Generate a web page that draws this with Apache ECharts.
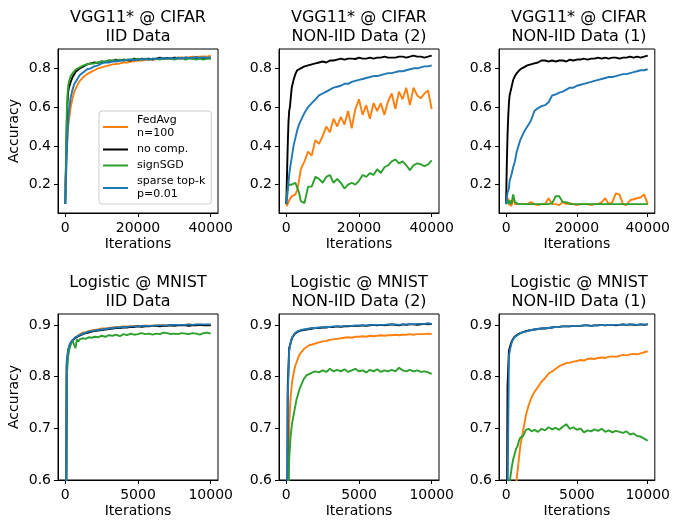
<!DOCTYPE html>
<html><head><meta charset="utf-8">
<script src="https://cdn.jsdelivr.net/npm/echarts@6/dist/echarts.min.js"></script>
<style>html,body{margin:0;padding:0;background:#fff}#c{width:673px;height:520px}</style>
</head><body><div id="c"></div>
<script>
// ---------- data ----------
const cifarIters = [0,200,400,600,800,1000,1500,2000,2500,3000,3500,4000,5000,6000,7000,8000,9000,10000,11000,12000,13000,14000,15000,16000,17000,18000,19000,20000,21000,22000,23000,24000,25000,26000,27000,28000,29000,30000,31000,32000,33000,34000,35000,36000,37000,38000,39000,40000];
const mnistIters = [0,100,200,300,400,500,600,700,800,900,1000,1200,1400,1600,1800,2000,2250,2500,2750,3000,3250,3500,3750,4000,4250,4500,4750,5000,5250,5500,5750,6000,6250,6500,6750,7000,7250,7500,7750,8000,8250,8500,8750,9000,9250,9500,9750,10000];

const seriesNames = ["FedAvg\nn=100", "no comp.", "signSGD", "sparse top-k\np=0.01"];
const seriesColors = ["#ff7f0e", "#000000", "#2ca02c", "#1f77b4"];

const titles = [
  "VGG11* @ CIFAR\nIID Data", "VGG11* @ CIFAR\nNON-IID Data (2)", "VGG11* @ CIFAR\nNON-IID Data (1)",
  "Logistic @ MNIST\nIID Data", "Logistic @ MNIST\nNON-IID Data (2)", "Logistic @ MNIST\nNON-IID Data (1)"
];
const cifarXTicks = [0, 20000, 40000];
const mnistXTicks = [0, 5000, 10000];
const cifarYTicks = [0.2, 0.4, 0.6, 0.8];
const mnistYTicks = [0.6, 0.7, 0.8, 0.9];

// CIFAR IID
const cifarIidFedAvg = [0.19,0.28,0.37,0.44,0.50,0.53,0.60,0.645,0.68,0.70,0.72,0.735,0.755,0.77,0.78,0.79,0.80,0.805,0.81,0.815,0.82,0.822,0.825,0.83,0.83,0.835,0.836,0.84,0.84,0.842,0.845,0.845,0.846,0.85,0.85,0.85,0.852,0.855,0.855,0.856,0.855,0.857,0.86,0.858,0.86,0.861,0.86,0.865];
const cifarIidNoComp = [0.10,0.30,0.50,0.62,0.68,0.70,0.73,0.755,0.77,0.785,0.795,0.80,0.81,0.82,0.825,0.83,0.828,0.835,0.833,0.84,0.838,0.845,0.84,0.845,0.843,0.84,0.85,0.845,0.85,0.848,0.85,0.845,0.85,0.855,0.85,0.853,0.85,0.855,0.852,0.85,0.855,0.853,0.85,0.855,0.852,0.85,0.853,0.852];
const cifarIidSign = [0.10,0.35,0.56,0.66,0.71,0.73,0.76,0.775,0.785,0.795,0.80,0.805,0.815,0.82,0.825,0.825,0.83,0.835,0.835,0.84,0.84,0.84,0.845,0.84,0.845,0.845,0.845,0.85,0.845,0.85,0.845,0.85,0.85,0.845,0.85,0.85,0.85,0.845,0.85,0.855,0.845,0.85,0.85,0.845,0.85,0.845,0.85,0.85];
const cifarIidTopk = [0.10,0.22,0.35,0.46,0.53,0.58,0.65,0.69,0.72,0.735,0.75,0.765,0.78,0.795,0.80,0.81,0.815,0.825,0.83,0.83,0.835,0.835,0.84,0.84,0.842,0.845,0.843,0.845,0.847,0.848,0.845,0.85,0.848,0.85,0.852,0.85,0.853,0.85,0.855,0.852,0.855,0.853,0.855,0.857,0.855,0.856,0.855,0.857];

// CIFAR NON-IID (2)
const cifarN2FedAvg = [0.11,0.09,0.085,0.10,0.12,0.13,0.14,0.13,0.15,0.17,0.22,0.28,0.32,0.37,0.35,0.43,0.41,0.45,0.50,0.47,0.54,0.50,0.55,0.51,0.58,0.49,0.59,0.64,0.56,0.61,0.54,0.62,0.58,0.62,0.56,0.63,0.67,0.59,0.68,0.64,0.70,0.61,0.70,0.66,0.645,0.67,0.685,0.59];
const cifarN2NoComp = [0.10,0.25,0.40,0.52,0.58,0.60,0.70,0.74,0.77,0.79,0.80,0.80,0.81,0.815,0.82,0.825,0.83,0.835,0.83,0.84,0.84,0.845,0.85,0.845,0.85,0.85,0.848,0.855,0.85,0.85,0.855,0.85,0.855,0.855,0.86,0.855,0.855,0.855,0.86,0.86,0.855,0.86,0.865,0.86,0.86,0.855,0.86,0.865];
const cifarN2Sign = [0.12,0.15,0.18,0.20,0.21,0.21,0.20,0.205,0.21,0.20,0.16,0.115,0.105,0.19,0.19,0.24,0.23,0.21,0.24,0.25,0.21,0.23,0.21,0.18,0.20,0.21,0.20,0.22,0.25,0.24,0.26,0.25,0.28,0.26,0.29,0.30,0.32,0.33,0.31,0.32,0.30,0.275,0.30,0.31,0.305,0.295,0.305,0.325];
const cifarN2Topk = [0.10,0.13,0.17,0.21,0.25,0.28,0.34,0.40,0.44,0.48,0.51,0.53,0.57,0.60,0.62,0.64,0.66,0.67,0.68,0.69,0.70,0.705,0.71,0.72,0.72,0.73,0.735,0.74,0.745,0.75,0.755,0.76,0.76,0.765,0.77,0.775,0.775,0.78,0.785,0.785,0.79,0.795,0.80,0.80,0.805,0.81,0.81,0.815];

// CIFAR NON-IID (1)
const cifarN1FedAvg = [0.10,0.11,0.09,0.13,0.10,0.11,0.09,0.13,0.10,0.09,0.10,0.095,0.10,0.10,0.11,0.10,0.095,0.10,0.10,0.13,0.10,0.10,0.095,0.11,0.10,0.105,0.10,0.095,0.10,0.10,0.10,0.095,0.10,0.10,0.11,0.13,0.10,0.11,0.155,0.15,0.10,0.095,0.12,0.125,0.13,0.135,0.15,0.10];
const cifarN1NoComp = [0.10,0.30,0.45,0.55,0.62,0.66,0.70,0.74,0.76,0.775,0.785,0.795,0.805,0.815,0.82,0.825,0.83,0.84,0.84,0.835,0.84,0.835,0.84,0.84,0.835,0.845,0.84,0.845,0.845,0.85,0.845,0.85,0.85,0.855,0.85,0.855,0.85,0.855,0.855,0.85,0.855,0.855,0.86,0.855,0.86,0.855,0.86,0.865];
const cifarN1Sign = [0.10,0.12,0.13,0.11,0.10,0.12,0.10,0.15,0.11,0.10,0.10,0.10,0.10,0.10,0.10,0.10,0.10,0.10,0.10,0.10,0.105,0.14,0.14,0.11,0.11,0.10,0.10,0.10,0.10,0.10,0.10,0.10,0.10,0.10,0.10,0.10,0.10,0.10,0.10,0.10,0.10,0.10,0.10,0.10,0.10,0.10,0.10,0.10];
const cifarN1Topk = [0.10,0.13,0.16,0.15,0.18,0.22,0.25,0.29,0.32,0.37,0.40,0.43,0.47,0.50,0.53,0.58,0.595,0.605,0.61,0.625,0.66,0.665,0.675,0.68,0.69,0.70,0.70,0.71,0.715,0.72,0.725,0.73,0.735,0.74,0.745,0.75,0.755,0.755,0.76,0.765,0.77,0.77,0.775,0.78,0.785,0.79,0.79,0.795];

// MNIST IID
const mnistIidFedAvg = [0.10,0.825,0.85,0.86,0.865,0.869,0.872,0.876,0.879,0.88,0.882,0.885,0.886,0.888,0.889,0.89,0.891,0.893,0.893,0.894,0.895,0.896,0.896,0.897,0.897,0.897,0.898,0.898,0.898,0.899,0.898,0.899,0.899,0.899,0.90,0.899,0.90,0.90,0.90,0.90,0.90,0.901,0.90,0.90,0.901,0.90,0.90,0.90];
const mnistIidNoComp = [0.10,0.82,0.85,0.86,0.866,0.87,0.873,0.875,0.877,0.878,0.88,0.882,0.884,0.885,0.887,0.888,0.889,0.89,0.891,0.892,0.893,0.894,0.894,0.895,0.895,0.896,0.896,0.897,0.896,0.897,0.897,0.898,0.898,0.897,0.898,0.898,0.899,0.898,0.899,0.899,0.899,0.898,0.899,0.899,0.90,0.899,0.899,0.899];
const mnistIidSign = [0.10,0.80,0.84,0.855,0.864,0.87,0.862,0.855,0.872,0.868,0.872,0.874,0.873,0.876,0.875,0.877,0.876,0.879,0.877,0.88,0.879,0.881,0.878,0.882,0.88,0.883,0.881,0.882,0.884,0.882,0.883,0.881,0.883,0.882,0.885,0.884,0.882,0.883,0.882,0.884,0.883,0.882,0.884,0.883,0.881,0.884,0.885,0.883];
const mnistIidTopk = [0.10,0.83,0.853,0.862,0.867,0.871,0.874,0.876,0.878,0.879,0.881,0.883,0.885,0.887,0.888,0.889,0.89,0.891,0.892,0.893,0.894,0.895,0.895,0.896,0.896,0.897,0.897,0.897,0.898,0.898,0.898,0.898,0.899,0.899,0.899,0.899,0.90,0.90,0.90,0.90,0.90,0.901,0.90,0.901,0.901,0.901,0.901,0.901];

// MNIST NON-IID (2)
const mnistN2FedAvg = [0.10,0.55,0.71,0.76,0.79,0.805,0.82,0.827,0.835,0.842,0.846,0.853,0.857,0.861,0.862,0.864,0.866,0.868,0.869,0.871,0.872,0.873,0.874,0.875,0.876,0.875,0.877,0.877,0.878,0.877,0.879,0.878,0.879,0.88,0.879,0.88,0.88,0.881,0.88,0.881,0.881,0.882,0.881,0.882,0.882,0.882,0.883,0.882];
const mnistN2NoComp = [0.10,0.78,0.855,0.865,0.875,0.879,0.883,0.886,0.887,0.888,0.889,0.89,0.891,0.892,0.893,0.894,0.894,0.895,0.895,0.896,0.896,0.897,0.896,0.897,0.897,0.898,0.898,0.898,0.899,0.898,0.899,0.90,0.899,0.90,0.899,0.90,0.901,0.90,0.899,0.901,0.90,0.901,0.901,0.90,0.901,0.902,0.901,0.902];
const mnistN2Sign = [0.10,0.45,0.64,0.685,0.71,0.725,0.74,0.755,0.765,0.775,0.782,0.795,0.803,0.805,0.808,0.81,0.808,0.812,0.809,0.815,0.81,0.813,0.81,0.814,0.809,0.812,0.815,0.81,0.812,0.808,0.813,0.81,0.814,0.809,0.812,0.81,0.813,0.81,0.817,0.812,0.81,0.813,0.81,0.812,0.809,0.81,0.808,0.805];
const mnistN2Topk = [0.10,0.76,0.85,0.866,0.876,0.88,0.884,0.886,0.888,0.889,0.89,0.891,0.892,0.893,0.894,0.894,0.895,0.895,0.896,0.896,0.897,0.897,0.897,0.898,0.898,0.898,0.899,0.899,0.899,0.899,0.90,0.90,0.90,0.90,0.90,0.901,0.901,0.901,0.90,0.901,0.901,0.902,0.901,0.902,0.902,0.902,0.903,0.902];

// MNIST NON-IID (1)
const mnistN1FedAvg = [0.10,0.20,0.30,0.38,0.44,0.50,0.55,0.59,0.615,0.64,0.665,0.695,0.725,0.745,0.76,0.77,0.78,0.79,0.797,0.806,0.81,0.815,0.82,0.823,0.826,0.827,0.829,0.83,0.832,0.831,0.834,0.835,0.834,0.836,0.837,0.836,0.838,0.839,0.838,0.84,0.842,0.841,0.843,0.844,0.843,0.845,0.847,0.849];
const mnistN1NoComp = [0.10,0.78,0.85,0.86,0.868,0.873,0.877,0.879,0.881,0.883,0.884,0.886,0.888,0.889,0.89,0.891,0.892,0.893,0.893,0.894,0.895,0.896,0.896,0.897,0.897,0.897,0.898,0.898,0.898,0.899,0.899,0.898,0.899,0.899,0.90,0.899,0.90,0.90,0.899,0.90,0.901,0.90,0.901,0.90,0.90,0.901,0.90,0.901];
const mnistN1Sign = [0.10,0.35,0.55,0.605,0.625,0.64,0.65,0.66,0.665,0.675,0.682,0.685,0.697,0.699,0.694,0.697,0.693,0.699,0.696,0.702,0.698,0.701,0.697,0.703,0.708,0.699,0.702,0.697,0.70,0.692,0.696,0.694,0.698,0.695,0.699,0.693,0.696,0.692,0.695,0.693,0.691,0.694,0.688,0.69,0.685,0.684,0.68,0.676];
const mnistN1Topk = [0.10,0.55,0.84,0.855,0.866,0.872,0.876,0.878,0.88,0.882,0.884,0.886,0.887,0.889,0.89,0.891,0.892,0.893,0.894,0.894,0.895,0.896,0.896,0.897,0.897,0.897,0.898,0.898,0.898,0.899,0.899,0.898,0.899,0.899,0.90,0.899,0.90,0.90,0.90,0.90,0.901,0.90,0.901,0.901,0.90,0.901,0.901,0.901];

// ---------- layout ----------
const FONT = "DejaVu Sans";
const panelLefts = [58, 279, 499];
const panelWidth = 160;
const rowTops = [49, 314];
const rowHeights = [164, 166];

const panels = [
  {iters: cifarIters, vals: [cifarIidFedAvg, cifarIidNoComp, cifarIidSign, cifarIidTopk], xr: [-2000, 42000], yr: [0.054, 0.8995], xt: cifarXTicks, yt: cifarYTicks},
  {iters: cifarIters, vals: [cifarN2FedAvg, cifarN2NoComp, cifarN2Sign, cifarN2Topk], xr: [-2000, 42000], yr: [0.054, 0.8995], xt: cifarXTicks, yt: cifarYTicks},
  {iters: cifarIters, vals: [cifarN1FedAvg, cifarN1NoComp, cifarN1Sign, cifarN1Topk], xr: [-2000, 42000], yr: [0.054, 0.8995], xt: cifarXTicks, yt: cifarYTicks},
  {iters: mnistIters, vals: [mnistIidFedAvg, mnistIidNoComp, mnistIidSign, mnistIidTopk], xr: [-500, 10500], yr: [0.6, 0.921], xt: mnistXTicks, yt: mnistYTicks},
  {iters: mnistIters, vals: [mnistN2FedAvg, mnistN2NoComp, mnistN2Sign, mnistN2Topk], xr: [-500, 10500], yr: [0.6, 0.921], xt: mnistXTicks, yt: mnistYTicks},
  {iters: mnistIters, vals: [mnistN1FedAvg, mnistN1NoComp, mnistN1Sign, mnistN1Topk], xr: [-500, 10500], yr: [0.6, 0.921], xt: mnistXTicks, yt: mnistYTicks}
];

const grids = [], xAxes = [], yAxes = [], titleOpts = [], series = [];
panels.forEach((p, i) => {
  const col = i % 3, row = Math.floor(i / 3);
  grids.push({left: panelLefts[col], top: rowTops[row], width: panelWidth, height: rowHeights[row],
    show: true, borderColor: "#000", borderWidth: 1, backgroundColor: "transparent", containLabel: false});
  xAxes.push({
    type: "value", gridIndex: i, min: p.xr[0], max: p.xr[1],
    name: "Iterations", nameLocation: "middle", nameGap: 24,
    nameTextStyle: {fontFamily: FONT, fontSize: 14, color: "#000"},
    axisLine: {show: true, onZero: false, lineStyle: {color: "#000", width: 1}},
    axisTick: {show: true, length: 4, customValues: p.xt, lineStyle: {color: "#000", width: 1}},
    axisLabel: {customValues: p.xt, fontFamily: FONT, fontSize: 14, color: "#000", margin: 8, formatter: v => String(Math.round(v))},
    splitLine: {show: false}
  });
  yAxes.push({
    type: "value", gridIndex: i, min: p.yr[0], max: p.yr[1],
    name: col === 0 ? "Accuracy" : "", nameLocation: "middle", nameGap: 37,
    nameTextStyle: {fontFamily: FONT, fontSize: 14, color: "#000"},
    axisLine: {show: true, onZero: false, lineStyle: {color: "#000", width: 1}},
    axisTick: {show: true, length: 4, customValues: p.yt, lineStyle: {color: "#000", width: 1}},
    axisLabel: {customValues: p.yt, fontFamily: FONT, fontSize: 14, color: "#000", margin: 7, formatter: v => v.toFixed(1)},
    splitLine: {show: false}
  });
  titleOpts.push({
    text: titles[i], left: panelLefts[col] + panelWidth / 2, top: row === 0 ? 9 : 274,
    textAlign: "center", padding: 0,
    textStyle: {fontFamily: FONT, fontSize: 16, fontWeight: "normal", color: "#000", lineHeight: 18.5}
  });
  p.vals.forEach((vals, k) => {
    series.push({
      type: "line", name: seriesNames[k], xAxisIndex: i, yAxisIndex: i,
      data: p.iters.map((x, j) => [x, vals[j]]),
      showSymbol: false, symbol: "none", clip: true, silent: true,
      color: seriesColors[k],
      lineStyle: {color: seriesColors[k], width: 1.9}
    });
  });
});

const chart = echarts.init(document.getElementById("c"), null, {renderer: "canvas"});
chart.setOption({
  animation: false,
  backgroundColor: "#fff",
  title: titleOpts,
  grid: grids, xAxis: xAxes, yAxis: yAxes,
  legend: {
    data: seriesNames, orient: "vertical", left: 99, top: 111,
    padding: [3, 6, 3, 4], itemGap: 3, itemWidth: 25, itemHeight: 2, icon: "rect",
    selectedMode: false,
    borderColor: "#cccccc", borderWidth: 1, borderRadius: 3, backgroundColor: "rgba(255,255,255,0.85)",
    textStyle: {fontFamily: FONT, fontSize: 11, lineHeight: 13, color: "#000", padding: [0, 0, 0, 4]}
  },
  series: series
});
</script></body></html>
